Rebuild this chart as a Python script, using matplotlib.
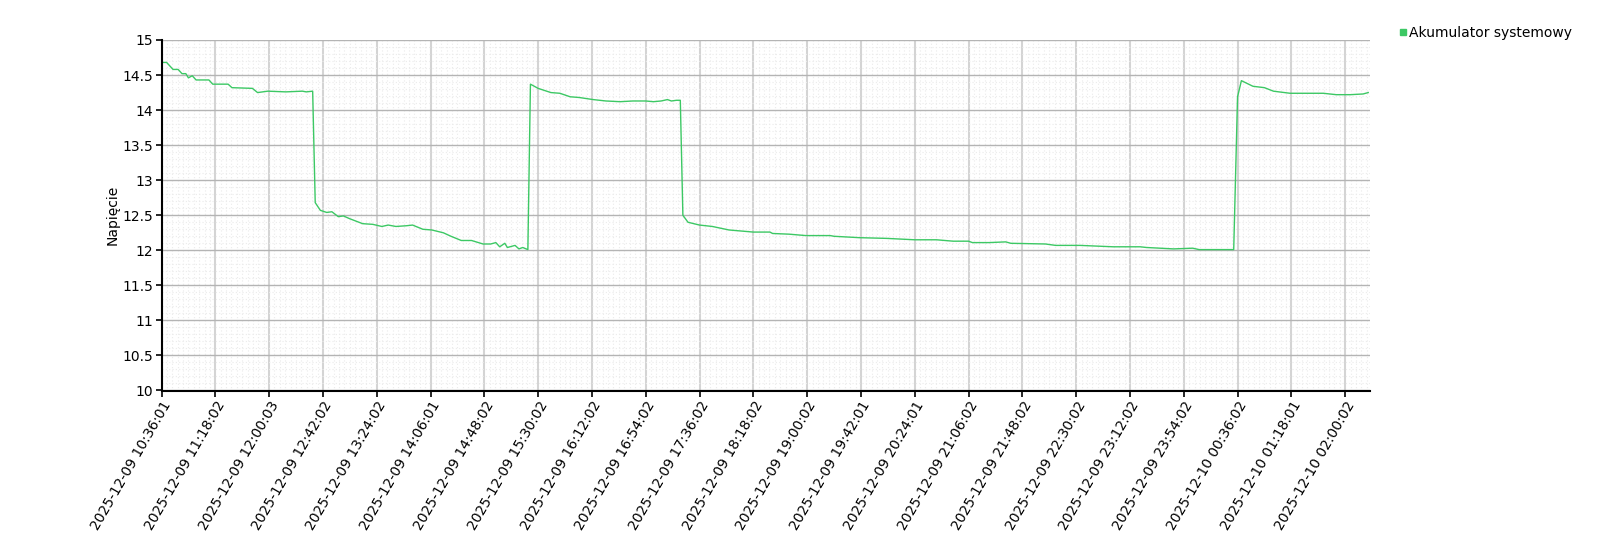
import matplotlib
matplotlib.use('Agg')
import matplotlib.pyplot as plt
from matplotlib.ticker import MultipleLocator

# minutes after 2025-12-09 10:36:01 and battery voltage
minutes = [0, 4, 9, 13, 16, 19, 21, 24, 27, 37, 40, 52, 55, 71, 75, 83, 97, 110, 113, 118,
           120, 124, 129, 133, 138, 142, 147, 157, 165, 172, 177, 183, 191, 196, 204, 211,
           220, 226, 234, 242, 251, 257, 261, 264, 268, 270, 276, 279, 282, 286,
           288, 294, 304, 311, 319, 326, 337, 347, 358, 368, 378, 384, 390, 395, 398, 402, 405,
           407, 411, 420, 430, 443, 462, 475, 477, 490, 503, 522, 525, 545, 566, 588, 605,
           618, 630, 633, 646, 659, 663, 690, 698, 717, 743, 764, 769, 790, 805, 810, 837,
           840, 843, 852, 861, 868, 881, 907, 917, 928, 938, 942]
voltage = [14.68, 14.68, 14.58, 14.58, 14.52, 14.52, 14.46, 14.49, 14.43, 14.43, 14.37, 14.37,
           14.32, 14.31, 14.25, 14.27, 14.26, 14.27, 14.26, 14.27,
           12.68, 12.57, 12.54, 12.55, 12.48, 12.49, 12.45, 12.38, 12.37, 12.34, 12.36, 12.34,
           12.35, 12.36, 12.30, 12.29, 12.25, 12.20, 12.14, 12.14, 12.09, 12.09, 12.11, 12.05,
           12.10, 12.04, 12.07, 12.02, 12.04, 12.01,
           14.37, 14.31, 14.25, 14.24, 14.19, 14.18, 14.15, 14.13, 14.12, 14.13, 14.13, 14.12,
           14.13, 14.15, 14.13, 14.14, 14.14,
           12.50, 12.40, 12.36, 12.34, 12.29, 12.26, 12.26, 12.24, 12.23, 12.21, 12.21, 12.20,
           12.18, 12.17, 12.15, 12.15, 12.13, 12.13, 12.11, 12.11, 12.12, 12.10, 12.09, 12.07,
           12.07, 12.05, 12.05, 12.04, 12.02, 12.03, 12.01, 12.01,
           14.19, 14.42, 14.34, 14.32, 14.27, 14.24, 14.24, 14.22, 14.22, 14.23, 14.25]

tick_labels = ['2025-12-09 10:36:01', '2025-12-09 11:18:02', '2025-12-09 12:00:03',
               '2025-12-09 12:42:02', '2025-12-09 13:24:02', '2025-12-09 14:06:01',
               '2025-12-09 14:48:02', '2025-12-09 15:30:02', '2025-12-09 16:12:02',
               '2025-12-09 16:54:02', '2025-12-09 17:36:02', '2025-12-09 18:18:02',
               '2025-12-09 19:00:02', '2025-12-09 19:42:01', '2025-12-09 20:24:01',
               '2025-12-09 21:06:02', '2025-12-09 21:48:02', '2025-12-09 22:30:02',
               '2025-12-09 23:12:02', '2025-12-09 23:54:02', '2025-12-10 00:36:02',
               '2025-12-10 01:18:01', '2025-12-10 02:00:02']
tick_step = 42

line_color = '#3cc864'

fig = plt.figure(figsize=(16, 5.5), dpi=100)
axs = fig.add_axes([161.5 / 1600, 1 - 390.5 / 550, 1208 / 1600, 350.5 / 550])

axs.plot(minutes, voltage, color=line_color, linewidth=1.0, label='Akumulator systemowy')

axs.set_xlim(0, 943)
axs.set_ylim(10, 15)
axs.set_xticks([i * tick_step for i in range(len(tick_labels))])
axs.set_xticklabels(tick_labels, rotation=60, ha='right', va='top', rotation_mode='anchor', fontsize=10)
axs.xaxis.set_minor_locator(MultipleLocator(tick_step / 10))
axs.yaxis.set_minor_locator(MultipleLocator(0.1))
axs.set_yticks([10, 10.5, 11, 11.5, 12, 12.5, 13, 13.5, 14, 14.5, 15])
axs.set_yticklabels(['10', '10.5', '11', '11.5', '12', '12.5', '13', '13.5', '14', '14.5', '15'], fontsize=10)
axs.set_ylabel('Napięcie', fontsize=10)
axs.yaxis.set_label_coords(-0.0345, 0.5)

axs.grid(which='minor', color='#ebebeb', linestyle=(0, (1, 2)), linewidth=0.8)
axs.grid(which='major', axis='x', color='#d4d4d4', linewidth=1.5)
axs.grid(which='major', axis='y', color='#b4b4b4', linewidth=1.0)
axs.set_axisbelow(True)

axs.tick_params(which='minor', length=0)
axs.tick_params(which='major', length=4, width=1.2, color='black', pad=2)
for side in ['top', 'right']:
    axs.spines[side].set_visible(False)
for side in ['left', 'bottom']:
    axs.spines[side].set_linewidth(1.5)
    axs.spines[side].set_color('black')

fig.legend(handles=[plt.Line2D([], [], color=line_color, marker='s', linestyle='none', markersize=5)],
           labels=['Akumulator systemowy'], loc='upper left', bbox_to_anchor=(1390 / 1600, 1 - 20 / 550),
           frameon=False, fontsize=10, handletextpad=0.0, handlelength=1.0, borderaxespad=0)

fig.savefig('out.png', dpi=100)
